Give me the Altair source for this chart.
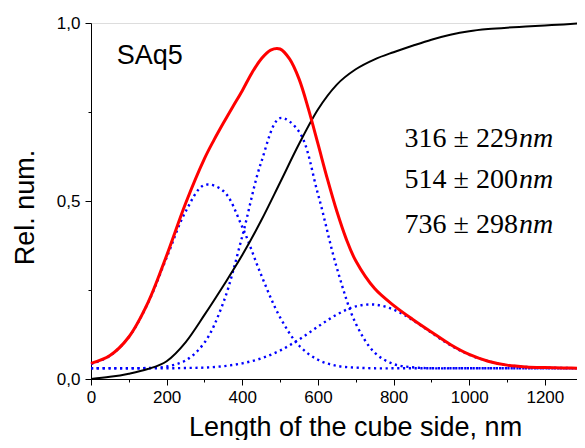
import altair as alt
import pandas as pd

# ---- data ----
x_nm = [0, 50, 100, 150, 200, 250, 300, 350, 400, 450, 500, 550, 600, 650,
        700, 750, 800, 850, 900, 950, 1000, 1050, 1100, 1150, 1200, 1250, 1300]

peak1 = [0.042, 0.065, 0.118, 0.212, 0.341, 0.470, 0.545, 0.528, 0.427, 0.292,
         0.173, 0.094, 0.054, 0.037, 0.032, 0.030, 0.030, 0.030, 0.030, 0.030,
         0.030, 0.030, 0.030, 0.030, 0.030, 0.030, 0.030]
peak2 = [0.030, 0.030, 0.030, 0.031, 0.035, 0.052, 0.102, 0.215, 0.401, 0.609,
         0.733, 0.695, 0.520, 0.312, 0.156, 0.074, 0.042, 0.033, 0.030, 0.030,
         0.030, 0.030, 0.030, 0.030, 0.030, 0.030, 0.030]
peak3 = [0.030, 0.030, 0.030, 0.030, 0.030, 0.031, 0.032, 0.036, 0.044, 0.058,
         0.080, 0.111, 0.147, 0.181, 0.204, 0.209, 0.195, 0.166, 0.130, 0.095,
         0.068, 0.050, 0.039, 0.034, 0.032, 0.031, 0.030]
cumulative = [0.0, 0.006, 0.015, 0.028, 0.050, 0.103, 0.180, 0.262, 0.348, 0.445,
              0.552, 0.660, 0.757, 0.827, 0.870, 0.898, 0.918, 0.936, 0.953, 0.967,
              0.977, 0.983, 0.987, 0.990, 0.993, 0.996, 1.0]

env_x = [0, 50, 100, 150, 200, 250, 300, 325, 350, 375, 400, 425, 450, 475, 500,
         525, 550, 575, 600, 625, 650, 675, 700, 750, 800, 850, 900, 950, 1000,
         1050, 1100, 1150, 1200, 1250, 1300]
envelope = [0.044, 0.066, 0.118, 0.213, 0.347, 0.493, 0.619, 0.671, 0.719, 0.765,
            0.810, 0.859, 0.899, 0.924, 0.927, 0.899, 0.843, 0.758, 0.661, 0.562,
            0.471, 0.393, 0.332, 0.254, 0.207, 0.168, 0.132, 0.097, 0.069,
            0.050, 0.039, 0.034, 0.032, 0.031, 0.030]

fit_numbers = ["316 \u00b1 229", "514 \u00b1 200", "736 \u00b1 298"]
fit_units = ["nm", "nm", "nm"]
fit_y = [0.652, 0.537, 0.410]
fit_x = [1129, 1129, 1129]

sample_label = ["SAq5"]
sample_x = [68]
sample_y = [0.885]

x_ticks = list(range(0, 1201, 100))
y_ticks = [0, 0.25, 0.5, 0.75, 1.0]

SANS = "Liberation Sans"
SERIF = "Liberation Serif"

blue_rows = []
for name, vals in (("p1", peak1), ("p2", peak2), ("p3", peak3)):
    for xv, yv in zip(x_nm, vals):
        blue_rows.append({"x": xv, "y": yv, "series": name})
df_blue = pd.DataFrame(blue_rows)
df_red = pd.DataFrame({"x": env_x, "y": envelope})
df_black = pd.DataFrame({"x": x_nm, "y": cumulative})
df_fit = pd.DataFrame({"x": fit_x, "y": fit_y, "num": fit_numbers, "unit": fit_units})
df_lab = pd.DataFrame({"x": sample_x, "y": sample_y, "t": sample_label})

# the visible part of the axis (the last few nm run into the page edge)
xscale = alt.Scale(domain=[0, 1285], nice=False, zero=False)
yscale = alt.Scale(domain=[0, 1.0], nice=False)

xaxis = alt.Axis(
    values=x_ticks,
    labelExpr="datum.value % 200 === 0 ? format(datum.value, 'd') : ''",
    tickSize={"condition": {"test": "datum.value % 200 === 0", "value": 6}, "value": 3},
    title="Length of the cube side, nm",
    titleFont=SANS, titleFontSize=27, titleFontWeight="normal", titleColor="black",
    titleX=264, titleY=56, titleAlign="center", titleBaseline="alphabetic",
    labelFont=SANS, labelFontSize=17, labelColor="black", labelPadding=4,
    domainColor="black", tickColor="black", grid=False, labelFlush=False,
    labelOverlap=False,
)
yaxis = alt.Axis(
    values=y_ticks,
    labelExpr="(datum.value * 4) % 2 < 0.01 ? replace(format(datum.value, '.1f'), '.', ',') : ''",
    tickSize={"condition": {"test": "(datum.value * 4) % 2 < 0.01", "value": 6}, "value": 3},
    title="Rel. num.",
    titleFont=SANS, titleFontSize=27, titleFontWeight="normal", titleColor="black",
    titleX=-58, titleY=184, titleAlign="center", titleBaseline="alphabetic", titleAngle=270,
    labelFont=SANS, labelFontSize=17, labelColor="black", labelPadding=5,
    domainColor="black", tickColor="black", grid=False, labelFlush=False,
    labelOverlap=False,
)

blue = alt.Chart(df_blue).mark_line(
    color="#0000ff", strokeWidth=2.4, strokeDash=[2.2, 3.6], interpolate="catmull-rom", clip=False
).encode(
    x=alt.X("x:Q", scale=xscale, axis=xaxis),
    y=alt.Y("y:Q", scale=yscale, axis=yaxis),
    detail="series:N",
)
black = alt.Chart(df_black).mark_line(
    color="black", strokeWidth=2, interpolate="monotone", clip=False
).encode(x="x:Q", y="y:Q")
red = alt.Chart(df_red).mark_line(
    color="#ff0000", strokeWidth=3, interpolate="catmull-rom", clip=False
).encode(x="x:Q", y="y:Q")

nums = alt.Chart(df_fit).mark_text(
    font=SERIF, fontSize=28, align="right", baseline="alphabetic", color="black"
).encode(x="x:Q", y="y:Q", text="num:N")
units = alt.Chart(df_fit).mark_text(
    font=SERIF, fontSize=28, fontStyle="italic", align="left", baseline="alphabetic",
    color="black", dx=1
).encode(x="x:Q", y="y:Q", text="unit:N")
lab = alt.Chart(df_lab).mark_text(
    font=SANS, fontSize=27, align="left", baseline="alphabetic", color="black"
).encode(x="x:Q", y="y:Q", text="t:N")

chart = alt.layer(blue, black, red, nums, units, lab).properties(
    width=486, height=356,
    padding={"left": 83, "top": 15, "right": 0, "bottom": 61},
    autosize=alt.AutoSizeParams(type="none"),
).configure_view(stroke=None).configure(background="white")

chart.save("out.html", embed_options={"renderer": "svg", "actions": False})
